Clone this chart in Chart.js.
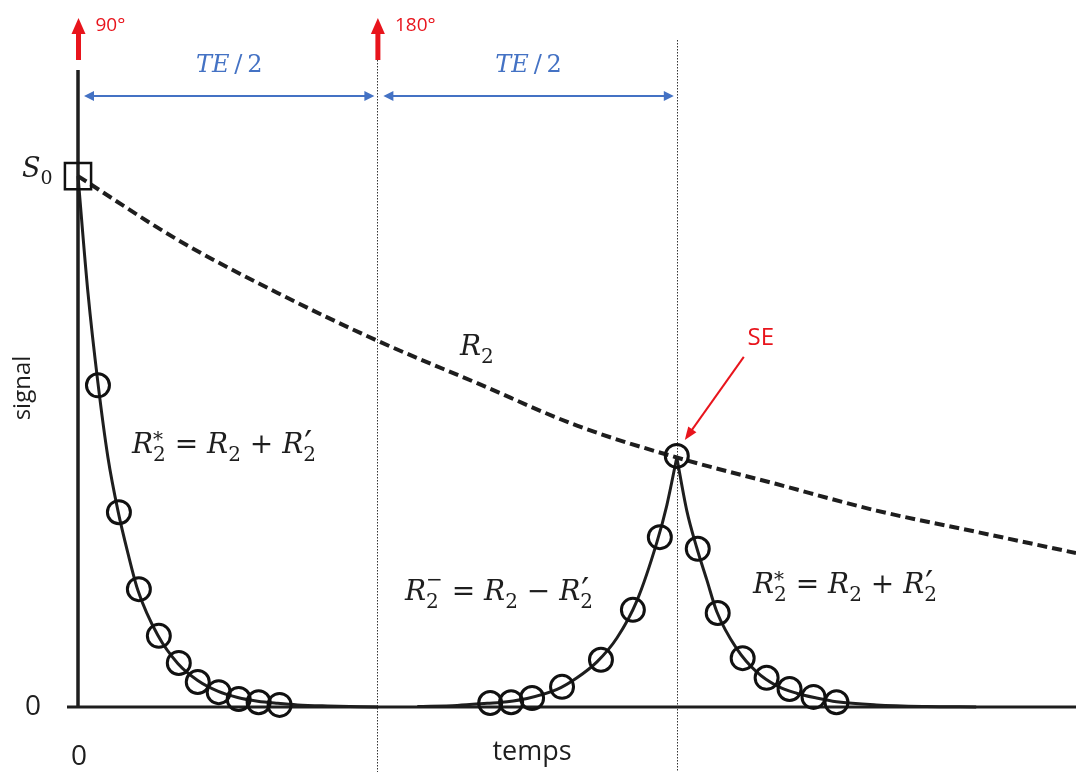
<!DOCTYPE html>
<html>
<head>
<meta charset="utf-8">
<script src="https://cdn.jsdelivr.net/npm/chart.js@4.4.1/dist/chart.umd.min.js"></script>
<style>
  html, body { margin: 0; padding: 0; background: #fff; }
  #wrap { width: 1076px; height: 772px; }
</style>
</head>
<body>
<div id="wrap"><canvas id="c" width="1076" height="772"></canvas></div>
<script>
// ============================================
// Spin echo schematic — signal vs time (ms)
// ============================================

// ---- Curves (time in ms, signal / S0) ----
const r2Time   = [0, 10, 20, 30, 40, 50, 60, 70, 80, 90, 100];
const r2Signal = [1.00, 0.88, 0.78, 0.69, 0.61, 0.53, 0.47, 0.42, 0.37, 0.33, 0.29];

const fidTime   = [0, 1, 2, 3, 4, 5, 6, 8, 10, 12, 14, 16, 18, 20, 22, 25, 30];
const fidSignal = [1.00, 0.78, 0.61, 0.47, 0.37, 0.29, 0.22, 0.135, 0.082, 0.05, 0.03, 0.018, 0.011, 0.007, 0.004, 0.002, 0];

const riseTime   = [34, 38, 41, 43, 45, 48, 50, 52, 54, 56, 58, 59, 60];
const riseSignal = [0.001, 0.003, 0.007, 0.010, 0.016, 0.033, 0.055, 0.085, 0.13, 0.20, 0.31, 0.38, 0.47];

const fallTime   = [60, 61, 62, 63, 64, 66, 68, 70, 72, 74, 76, 80, 85, 90];
const fallSignal = [0.47, 0.37, 0.30, 0.24, 0.18, 0.11, 0.066, 0.04, 0.026, 0.017, 0.010, 0.004, 0.001, 0];

// ---- Sampled points (circles) ----
const fidSampleTime   = [2.0, 4.1, 6.1, 8.1, 10.1, 12.0, 14.1, 16.1, 18.1, 20.2];
const fidSampleSignal = [0.606, 0.367, 0.222, 0.134, 0.083, 0.047, 0.028, 0.015, 0.009, 0.004];

const echoSampleTime   = [41.3, 43.4, 45.5, 48.5, 52.4, 55.6, 58.3, 60.0, 62.1, 64.1, 66.6, 69.0, 71.3, 73.7, 76.0];
const echoSampleSignal = [0.0075, 0.009, 0.017, 0.038, 0.089, 0.183, 0.32, 0.473, 0.298, 0.177, 0.092, 0.055, 0.034, 0.019, 0.009];

const s0Time   = [0];
const s0Signal = [1.0];

// ---- Pulses, echo, ticks ----
const pulseTimes  = [0, 30];
const pulseLabels = ['90°', '180°'];
const echoTime    = 60;
const xTickValues = [0];
const xTickLabels = ['0'];
const yTickValues = [0];
const yTickLabels = ['0'];

const RED  = '#e8141c';
const BLUE = '#4472c4';
const INK  = '#1e1e1e';
const SANS = '"Open Sans", "Liberation Sans", sans-serif';
const SERIF = '"DejaVu Serif", serif';

const pts = (xs, ys) => xs.map((x, i) => ({ x, y: ys[i] }));

// ---- Math-ish text: tokens [text, kind, sup] ----
function drawMath(ctx, x, y, tokens, size, color, align) {
  const subSize = Math.round(size * 0.72);
  const fontOf = tk => {
    if (tk[1] === 'sub') return `${subSize}px ${SERIF}`;
    return `${tk[1] === 'i' ? 'italic ' : ''}${size}px ${SERIF}`;
  };
  const supFont = s => s === '′' ? `${Math.round(size * 1.25)}px ${SERIF}` : `${subSize}px ${SERIF}`;
  const widths = tokens.map(tk => {
    ctx.font = fontOf(tk);
    let w = ctx.measureText(tk[0]).width;
    if (tk[2]) { ctx.font = supFont(tk[2]); w = Math.max(w, ctx.measureText(tk[2]).width); }
    return w;
  });
  const total = widths.reduce((a, b) => a + b, 0);
  let cx = align === 'center' ? x - total / 2 : x;
  ctx.fillStyle = color;
  ctx.textAlign = 'left';
  ctx.textBaseline = 'alphabetic';
  tokens.forEach((tk, i) => {
    ctx.font = fontOf(tk);
    const dy = tk[1] === 'sub' ? size * 0.27 : 0;
    ctx.fillText(tk[0], cx, y + dy);
    if (tk[2]) {
      ctx.font = supFont(tk[2]);
      const supDy = tk[2] === '−' ? -size * 0.5 : tk[2] === '′' ? size * 0.12 : -size * 0.26;
      ctx.fillText(tk[2], cx + (tk[2] === '′' ? 1 : 0), y + supDy);
    }
    cx += widths[i];
  });
}

function arrowHead(ctx, x1, y1, x2, y2, len, half) {
  const a = Math.atan2(y2 - y1, x2 - x1);
  ctx.beginPath();
  ctx.moveTo(x2, y2);
  ctx.lineTo(x2 - len * Math.cos(a) + half * Math.sin(a), y2 - len * Math.sin(a) - half * Math.cos(a));
  ctx.lineTo(x2 - len * Math.cos(a) - half * Math.sin(a), y2 - len * Math.sin(a) + half * Math.cos(a));
  ctx.closePath();
  ctx.fill();
}

const schematic = {
  id: 'schematic',
  beforeDatasetsDraw(chart) {
    const { ctx, scales: { x, y }, chartArea } = chart;
    const x0 = x.getPixelForValue(0), y0 = y.getPixelForValue(0);
    ctx.save();

    // dotted guides at 180° and echo
    ctx.strokeStyle = '#333';
    ctx.lineWidth = 1;
    ctx.setLineDash([1.5, 1.5]);
    [[pulseTimes[1], 60], [echoTime, 40]].forEach(([t, top]) => {
      const px = Math.round(x.getPixelForValue(t)) + 0.5;
      ctx.beginPath(); ctx.moveTo(px, top); ctx.lineTo(px, chart.height); ctx.stroke();
    });
    ctx.setLineDash([]);

    // axes
    ctx.strokeStyle = INK;
    ctx.lineWidth = 3.5;
    ctx.beginPath(); ctx.moveTo(x0, chartArea.top); ctx.lineTo(x0, y0 + 1); ctx.stroke();
    ctx.lineWidth = 3;
    ctx.beginPath(); ctx.moveTo(67, y0); ctx.lineTo(chart.width, y0); ctx.stroke();

    // TE/2 double arrows
    ctx.strokeStyle = BLUE; ctx.fillStyle = BLUE; ctx.lineWidth = 2;
    const ay = 96;
    [[0, pulseTimes[1]], [pulseTimes[1], echoTime]].forEach(([a, b]) => {
      const xa = x.getPixelForValue(a) + 6, xb = x.getPixelForValue(b) - 3;
      ctx.beginPath(); ctx.moveTo(xa + 6, ay); ctx.lineTo(xb - 6, ay); ctx.stroke();
      arrowHead(ctx, xb, ay, xa, ay, 10, 5);
      arrowHead(ctx, xa, ay, xb, ay, 10, 5);
      drawMath(ctx, (xa + xb) / 2, 72, [['TE', 'i'], ['\u2009/\u20092', 'n']], 24, BLUE, 'center');
    });

    // RF pulse arrows
    ctx.fillStyle = RED;
    pulseTimes.forEach((t, i) => {
      const px = x.getPixelForValue(t) + 0.5;
      ctx.fillRect(px - 2.5, 32, 5, 28);
      ctx.beginPath(); ctx.moveTo(px, 18); ctx.lineTo(px + 7, 34); ctx.lineTo(px - 7, 34); ctx.closePath(); ctx.fill();
      ctx.font = `19px ${SANS}`;
      ctx.textAlign = 'left'; ctx.textBaseline = 'middle';
      ctx.fillText(pulseLabels[i], px + 17, 26);
    });
    ctx.restore();
  },
  afterDatasetsDraw(chart) {
    const { ctx, scales: { x, y } } = chart;
    ctx.save();

    // tick labels and axis titles
    ctx.fillStyle = INK;
    ctx.font = `28px ${SANS}`;
    ctx.textAlign = 'center'; ctx.textBaseline = 'middle';
    yTickValues.forEach((v, i) => ctx.fillText(yTickLabels[i], 33, y.getPixelForValue(v)));
    xTickValues.forEach((v, i) => ctx.fillText(xTickLabels[i], x.getPixelForValue(v) + 1, 757));
    ctx.font = `27px ${SANS}`;
    ctx.fillText('temps', 532, 752);
    ctx.save();
    ctx.translate(23, 388); ctx.rotate(-Math.PI / 2);
    ctx.font = `24px ${SANS}`;
    ctx.fillText('signal', 0, 0);
    ctx.restore();

    // math labels
    drawMath(ctx, 22, 177, [['S', 'i'], ['0', 'sub']], 27, INK, 'left');
    drawMath(ctx, 460, 355, [['R', 'i'], ['2', 'sub']], 28, INK, 'left');
    const plus  = [['R', 'i'], ['2', 'sub', '*'], [' = ', 'n'], ['R', 'i'], ['2', 'sub'], [' + ', 'n'], ['R', 'i'], ['2', 'sub', '′']];
    const minus = [['R', 'i'], ['2', 'sub', '−'], [' = ', 'n'], ['R', 'i'], ['2', 'sub'], [' − ', 'n'], ['R', 'i'], ['2', 'sub', '′']];
    drawMath(ctx, 132, 453, plus, 28, INK, 'left');
    drawMath(ctx, 405, 600, minus, 28, INK, 'left');
    drawMath(ctx, 753, 593, plus, 28, INK, 'left');

    // spin echo pointer
    const ex = x.getPixelForValue(echoTime), ey = y.getPixelForValue(echoSampleSignal[7]);
    ctx.strokeStyle = RED; ctx.fillStyle = RED; ctx.lineWidth = 2;
    ctx.beginPath(); ctx.moveTo(ex + 67, ey - 99); ctx.lineTo(ex + 13, ey - 23); ctx.stroke();
    arrowHead(ctx, ex + 67, ey - 99, ex + 8, ey - 16, 13, 5);
    ctx.font = `24px ${SANS}`;
    ctx.textAlign = 'center'; ctx.textBaseline = 'middle';
    ctx.fillText('SE', ex + 84, ey - 118);
    ctx.restore();
  }
};

const lineStyle = { showLine: true, pointRadius: 0, borderColor: INK, borderWidth: 3, cubicInterpolationMode: 'monotone', clip: false };
const circleStyle = { showLine: false, pointStyle: 'circle', pointRadius: 11.5, borderColor: '#111', borderWidth: 3, backgroundColor: 'rgba(0,0,0,0)', clip: false };

new Chart(document.getElementById('c'), {
  type: 'scatter',
  data: {
    datasets: [
      { label: 'S0', data: pts(s0Time, s0Signal), showLine: false, pointStyle: 'rect', pointRadius: 18.5, borderColor: '#111', borderWidth: 2.5, backgroundColor: 'rgba(0,0,0,0)', clip: false },
      { label: 'FID samples', data: pts(fidSampleTime, fidSampleSignal), ...circleStyle },
      { label: 'Echo samples', data: pts(echoSampleTime, echoSampleSignal), ...circleStyle },
      { label: 'R2* decay', data: pts(fidTime, fidSignal), ...lineStyle },
      { label: 'Echo rise', data: pts(riseTime, riseSignal), ...lineStyle },
      { label: 'Echo fall', data: pts(fallTime, fallSignal), ...lineStyle },
      { label: 'R2', data: pts(r2Time, r2Signal), ...lineStyle, borderDash: [10, 5], borderWidth: 4 }
    ]
  },
  options: {
    responsive: false,
    animation: false,
    devicePixelRatio: 1,
    events: [],
    layout: { autoPadding: false, padding: { left: 78, right: 0, top: 70, bottom: 65 } },
    plugins: { legend: { display: false }, tooltip: { enabled: false } },
    scales: {
      x: { type: 'linear', min: 0, max: 100, display: false },
      y: { type: 'linear', min: 0, max: 1.2, display: false }
    }
  },
  plugins: [schematic]
});
</script>
</body>
</html>
